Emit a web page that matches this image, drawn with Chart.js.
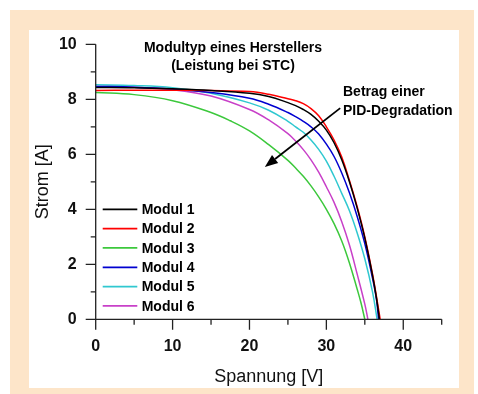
<!DOCTYPE html>
<html>
<head>
<meta charset="utf-8">
<script src="https://cdn.jsdelivr.net/npm/chart.js@4/dist/chart.umd.min.js"></script>
<style>
  html, body { margin: 0; padding: 0; background: #fff; }
  #frame { position: absolute; left: 10px; top: 10px; width: 464px; height: 384px; background: #fde5c9; }
  #panel { position: absolute; left: 29px; top: 30px; width: 430px; height: 358px; background: #fff; }
  #wrap { position: absolute; left: 0; top: 0; width: 478px; height: 394px; }
</style>
</head>
<body>
<div id="frame"></div>
<div id="panel"></div>
<div id="wrap"><canvas id="ivChart" width="478" height="394"></canvas></div>
<script>
//---------------------------------------------------------
// I-V curves (Spannung in V, Strom in A)
const modul1V = [0, 5, 10, 15, 20, 22.5, 25, 26, 27, 28, 29, 30, 31, 32, 33, 34, 35, 36, 36.5, 36.9];
const modul1I = [8.43, 8.42, 8.38, 8.32, 8.22, 8.1, 7.88, 7.77, 7.63, 7.45, 7.2, 6.88, 6.42, 5.8, 5.0, 4.05, 2.95, 1.6, 0.8, 0];

const modul2V = [0, 5, 10, 15, 20, 22.5, 25, 26, 27, 28, 29, 30, 31, 32, 33, 34, 35, 36, 36.5, 37];
const modul2I = [8.32, 8.33, 8.33, 8.32, 8.28, 8.18, 8.02, 7.95, 7.84, 7.66, 7.4, 7.0, 6.52, 5.9, 5.05, 4.1, 3.0, 1.65, 0.85, 0];

const modul3V = [0, 5, 10, 15, 17.5, 20, 22.5, 25, 26, 27, 28, 29, 30, 31, 32, 33, 34, 34.5, 35];
const modul3I = [8.25, 8.17, 7.95, 7.52, 7.22, 6.85, 6.35, 5.78, 5.5, 5.2, 4.85, 4.45, 4.0, 3.48, 2.85, 2.05, 1.1, 0.6, 0];

const modul4V = [0, 5, 10, 15, 20, 22.5, 25, 26, 27, 28, 29, 30, 31, 32, 33, 34, 35, 36, 36.5, 36.8];
const modul4I = [8.47, 8.44, 8.37, 8.25, 8.04, 7.82, 7.52, 7.37, 7.2, 7.0, 6.74, 6.37, 5.92, 5.32, 4.6, 3.75, 2.75, 1.5, 0.75, 0];

const modul5V = [0, 5, 10, 15, 20, 22.5, 25, 26, 27, 28, 29, 30, 31, 32, 33, 34, 35, 36, 36.6];
const modul5I = [8.53, 8.5, 8.42, 8.22, 7.87, 7.6, 7.2, 7.0, 6.8, 6.52, 6.18, 5.75, 5.2, 4.58, 3.95, 3.15, 2.2, 1.0, 0];

const modul6V = [0, 5, 10, 15, 20, 22.5, 25, 26, 27, 28, 29, 30, 31, 32, 33, 34, 35, 35.4];
const modul6I = [8.47, 8.44, 8.35, 8.12, 7.63, 7.25, 6.75, 6.48, 6.17, 5.8, 5.35, 4.82, 4.25, 3.55, 2.7, 1.65, 0.55, 0];

const moduleNames = ["Modul 1", "Modul 2", "Modul 3", "Modul 4", "Modul 5", "Modul 6"];
const moduleColors = ["#000000", "#ff0000", "#3cc83c", "#0000d0", "#30c8d0", "#c840c8"];

// axis ticks
const xTicks = [0, 10, 20, 30, 40];
const xMinorTicks = [0, 5, 10, 15, 20, 25, 30, 35, 40, 45];
const yTicks = [0, 2, 4, 6, 8, 10];
const yMinorTicks = [1, 3, 5, 7, 9];

// helper: pair voltage and current arrays into {x, y} points
const toPoints = (vs, is) => vs.map((v, i) => ({ x: v, y: is[i] }));
const seriesV = [modul1V, modul2V, modul3V, modul4V, modul5V, modul6V];
const seriesI = [modul1I, modul2I, modul3I, modul4I, modul5I, modul6I];

const FONT = "'Liberation Sans', Arial, sans-serif";

//---------------------------------------------------------
// Plugin: axis lines, tick marks, inner legend, annotations
const axesAndNotes = {
  id: "axesAndNotes",
  afterDatasetsDraw(chart) {
    const { ctx, chartArea: a, scales: { x, y } } = chart;
    ctx.save();

    // axis lines + tick marks
    ctx.strokeStyle = "#222";
    ctx.lineWidth = 1.3;
    ctx.beginPath();
    ctx.moveTo(a.left, a.top); ctx.lineTo(a.left, a.bottom);
    ctx.moveTo(a.left, a.bottom); ctx.lineTo(a.right, a.bottom);
    yTicks.forEach(v => { const py = y.getPixelForValue(v); ctx.moveTo(a.left - 10, py); ctx.lineTo(a.left, py); });
    yMinorTicks.forEach(v => { const py = y.getPixelForValue(v); ctx.moveTo(a.left - 5, py); ctx.lineTo(a.left, py); });
    xMinorTicks.forEach(v => {
      const px = x.getPixelForValue(v);
      const len = xTicks.includes(v) ? 10.5 : 5.5;
      ctx.moveTo(px, a.bottom); ctx.lineTo(px, a.bottom + len);
    });
    ctx.stroke();

    // legend inside the plot (lines + labels)
    ctx.font = "bold 14px " + FONT;
    ctx.textBaseline = "middle";
    ctx.textAlign = "left";
    chart.data.datasets.forEach((ds, i) => {
      const rowY = 209.3 + i * 19.33;
      ctx.strokeStyle = ds.borderColor;
      ctx.lineWidth = 1.8;
      ctx.beginPath();
      ctx.moveTo(102.7, rowY); ctx.lineTo(137.3, rowY);
      ctx.stroke();
      ctx.fillStyle = "#000";
      ctx.fillText(ds.label, 141.7, rowY + 0.8);
    });

    // title text inside plot
    ctx.fillStyle = "#000";
    ctx.textAlign = "center";
    ctx.textBaseline = "alphabetic";
    ctx.font = "bold 14px " + FONT;
    ctx.fillText("Modultyp eines Herstellers", 233, 52);
    ctx.fillText("(Leistung bei STC)", 233, 70);

    // degradation note + arrow
    ctx.textAlign = "left";
    ctx.font = "bold 14px " + FONT;
    ctx.fillText("Betrag einer", 343, 95.5);
    ctx.fillText("PID-Degradation", 343, 114.5);

    const x0 = x.getPixelForValue(31.8), y0 = y.getPixelForValue(7.68);
    const x1 = x.getPixelForValue(22.0), y1 = y.getPixelForValue(5.54);
    const ang = Math.atan2(y1 - y0, x1 - x0);
    const headLen = 13, headHalf = 5;
    const bx = x1 - headLen * Math.cos(ang), by = y1 - headLen * Math.sin(ang);
    ctx.strokeStyle = "#000";
    ctx.lineWidth = 1.8;
    ctx.beginPath();
    ctx.moveTo(x0, y0); ctx.lineTo(bx, by);
    ctx.stroke();
    ctx.fillStyle = "#000";
    ctx.beginPath();
    ctx.moveTo(x1, y1);
    ctx.lineTo(bx + headHalf * Math.sin(ang), by - headHalf * Math.cos(ang));
    ctx.lineTo(bx - headHalf * Math.sin(ang), by + headHalf * Math.cos(ang));
    ctx.closePath();
    ctx.fill();

    ctx.restore();
  },
};

//---------------------------------------------------------
// Chart
new Chart(document.getElementById("ivChart"), {
  type: "line",
  data: {
    datasets: moduleNames.map((name, i) => ({
      label: name,
      data: toPoints(seriesV[i], seriesI[i]),
      borderColor: moduleColors[i],
      borderWidth: 1.5,
      pointRadius: 0,
      fill: false,
      tension: 0.4, // smooth the curve through the read-off points
    })),
  },
  options: {
    responsive: false,
    animation: false,
    devicePixelRatio: 1,
    layout: { padding: { top: 44.3, right: 36.3, left: 0, bottom: 0 } },
    scales: {
      x: {
        type: "linear",
        min: 0,
        max: 45,
        afterFit: (s) => { s.height = 74.7; },
        afterBuildTicks: (s) => { s.ticks = xTicks.map(v => ({ value: v })); },
        grid: { display: false, drawTicks: false },
        border: { display: false },
        ticks: { padding: 18, color: "#111", font: { family: FONT, size: 16, weight: "bold" } },
        title: {
          display: true,
          text: "Spannung [V]",
          color: "#111",
          font: { family: FONT, size: 18 },
          padding: { bottom: 6, top: 0 },
        },
      },
      y: {
        min: 0,
        max: 10,
        afterFit: (s) => { s.width = 95.7; },
        afterBuildTicks: (s) => { s.ticks = yTicks.map(v => ({ value: v })); },
        grid: { display: false, drawTicks: false },
        border: { display: false },
        ticks: { padding: 19, color: "#111", font: { family: FONT, size: 16, weight: "bold" } },
        title: {
          display: true,
          text: "Strom [A]",
          color: "#111",
          font: { family: FONT, size: 18 },
          padding: { top: 32.5, bottom: 0 },
        },
      },
    },
    plugins: {
      legend: { display: false },
      tooltip: { enabled: false },
    },
  },
  plugins: [axesAndNotes],
});
</script>
</body>
</html>
